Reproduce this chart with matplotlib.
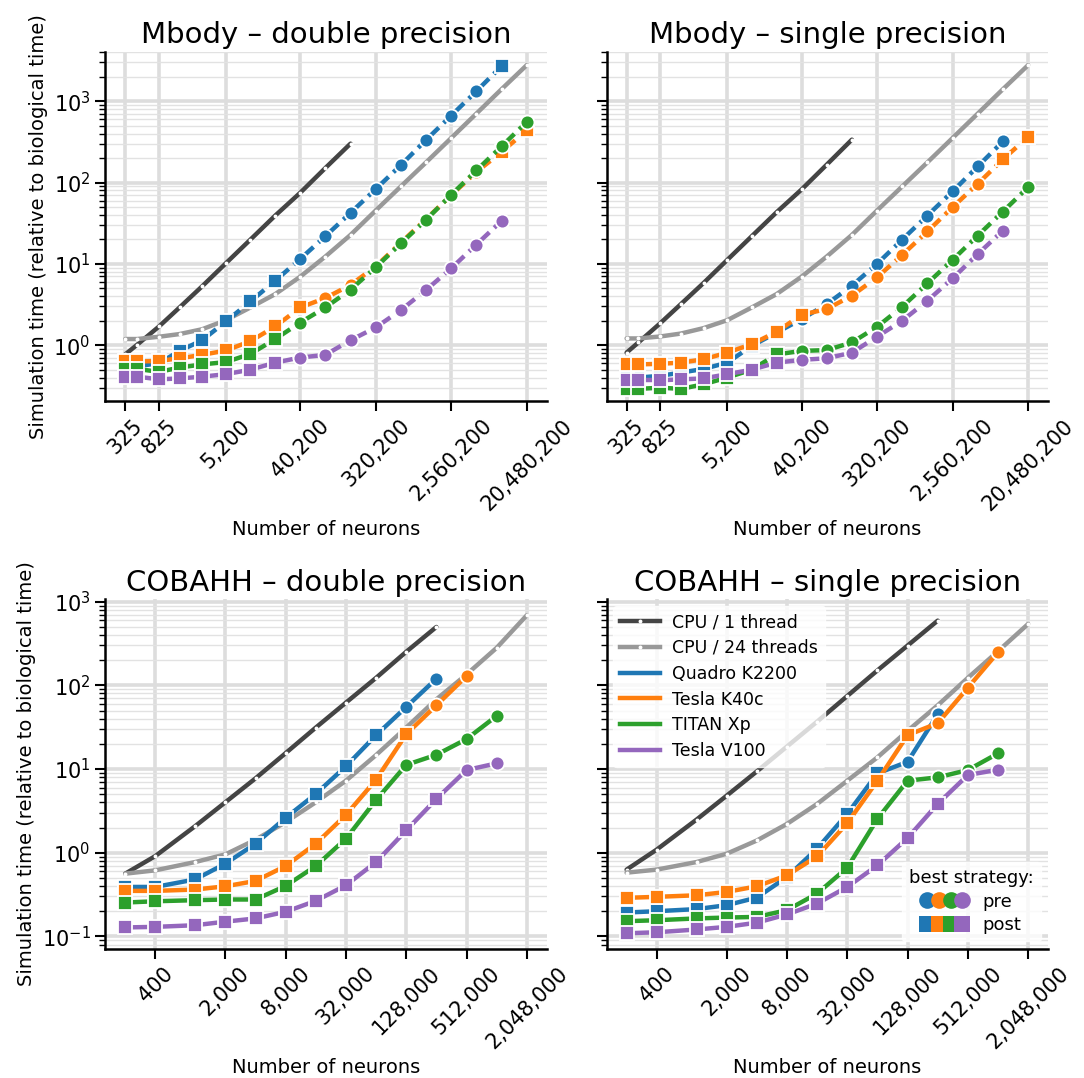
import numpy as np
import matplotlib.pyplot as plt
from matplotlib.lines import Line2D
from matplotlib.legend_handler import HandlerTuple
from matplotlib.ticker import NullLocator, LogLocator

plt.rcParams['font.family'] = 'DejaVu Sans'
plt.rcParams['font.size'] = 13

# x values
mbody_n = [325, 450, 825, 1450, 2700, 5200, 10200, 20200, 40200, 80200, 160200,
           320200, 640200, 1280200, 2560200, 5120200, 10240200, 20480200]
mbody_ticks = [325, 825, 5200, 40200, 320200, 2560200, 20480200]
cobahh_n = [200, 400, 1000, 2000, 4000, 8000, 16000, 32000, 64000, 128000,
            256000, 512000, 1024000, 2048000]
cobahh_ticks = [400, 2000, 8000, 32000, 128000, 512000, 2048000]

labels = ['CPU / 1 thread', 'CPU / 24 threads', 'Quadro K2200', 'Tesla K40c', 'TITAN Xp', 'Tesla V100']
colors = ['#444444', '#999999', '#1f77b4', '#ff7f0e', '#2ca02c', '#9467bd']

# Mbody - double precision
mbd_cpu1 = [0.77, 1.01, 1.70, 2.91, 5.3, 10.2, 19.9, 39.3, 75, 151, 301]
mbd_cpu24 = [1.19, 1.19, 1.27, 1.37, 1.57, 2.03, 2.91, 4.25, 6.96, 12.3, 22.7, 45.3, 89.6, 177, 353, 705, 1408, 2782]
mbd_k2200 = [0.55, 0.55, 0.60, 0.85, 1.15, 1.96, 3.45, 6.21, 11.5, 21.9, 42.4, 83, 164, 334, 666, 1330, 2704]
mbd_k40c = [0.63, 0.63, 0.64, 0.69, 0.76, 0.86, 1.12, 1.70, 2.91, 3.8, 5.5, 9.3, 18.2, 35.5, 70, 135, 238, 439]
mbd_titan = [0.51, 0.51, 0.47, 0.53, 0.58, 0.62, 0.78, 1.19, 1.90, 2.91, 4.81, 9.07, 17.8, 34.8, 70.7, 141, 279, 557]
mbd_v100 = [0.41, 0.41, 0.38, 0.39, 0.41, 0.44, 0.50, 0.61, 0.705, 0.76, 1.15, 1.65, 2.70, 4.77, 8.82, 17.3, 33.8]
mbd_k2200_st = 'ssssssssoooooooos'
mbd_k40c_st = 'sssssssssooooooos'+'s'
mbd_titan_st = 'ssssssssoooooooooo'
mbd_v100_st = 'ssssssssooooooooo'

# Mbody - single precision
mbs_cpu1 = [0.81, 1.08, 1.87, 3.2, 5.81, 11.2, 21.9, 43.2, 82.3, 166, 337]
mbs_cpu24 = [1.21, 1.21, 1.28, 1.39, 1.62, 2.03, 2.91, 4.25, 6.96, 12.3, 22.7, 45.3, 89.6, 177, 353, 705, 1408, 2782]
mbs_k2200 = [0.40, 0.40, 0.42, 0.46, 0.51, 0.61, 0.98, 1.43, 2.09, 3.2, 5.39, 10, 19.9, 39.3, 77.8, 158, 321]
mbs_k40c = [0.58, 0.58, 0.59, 0.61, 0.67, 0.81, 1.03, 1.46, 2.37, 2.78, 4.06, 6.83, 12.9, 25, 49.8, 96.6, 193, 364]
mbs_titan = [0.29, 0.29, 0.30, 0.29, 0.33, 0.40, 0.50, 0.77, 0.85, 0.87, 1.08, 1.68, 2.97, 5.76, 11.2, 22.3, 44, 87.9]
mbs_v100 = [0.37, 0.37, 0.37, 0.38, 0.39, 0.44, 0.50, 0.61, 0.66, 0.69, 0.81, 1.27, 2.0, 3.52, 6.64, 13.2, 25.7]
mbs_k2200_st = 'ssssssssooooooooo'
mbs_k40c_st = 'sssssssssooooooos'+'s'
mbs_titan_st = 'ssssssssoooooooooo'
mbs_v100_st = 'ssssssssooooooooo'

# COBAHH - double precision
cbd_cpu1 = [0.562, 0.913, 2.08, 4.01, 7.74, 15.5, 31.3, 62.2, 123, 252, 499]
cbd_cpu24 = [0.562, 0.616, 0.774, 0.955, 1.43, 2.32, 4.01, 7.26, 14.7, 31.3, 68.1, 135, 281, 688]
cbd_k2200 = [0.39, 0.39, 0.48, 0.74, 1.28, 2.61, 5.04, 10.8, 25.4, 55.2, 120]
cbd_k40c = [0.35, 0.35, 0.363, 0.397, 0.46, 0.694, 1.28, 2.83, 7.46, 26.1, 57.8, 129]
cbd_titan = [0.254, 0.263, 0.271, 0.276, 0.276, 0.401, 0.694, 1.47, 4.27, 11.2, 14.8, 22.8, 43.2]
cbd_v100 = [0.128, 0.130, 0.136, 0.15, 0.164, 0.197, 0.266, 0.408, 0.774, 1.85, 4.39, 9.73, 11.7]
cbd_k2200_st = 'sssssssssoo'
cbd_k40c_st = 'ssssssssssoo'
cbd_titan_st = 'sssssssssoooo'
cbd_v100_st = 'sssssssssssoo'

# COBAHH - single precision
cbs_cpu1 = [0.628, 1.09, 2.49, 4.81, 9.38, 18.6, 36.9, 74.7, 151, 299, 594]
cbs_cpu24 = [0.578, 0.628, 0.774, 0.973, 1.4, 2.21, 3.83, 7.26, 13.8, 28.6, 57.8, 123, 256, 542]
cbs_k2200 = [0.193, 0.2, 0.212, 0.236, 0.291, 0.513, 1.12, 2.91, 8.88, 12.2, 45.1]
cbs_k40c = [0.289, 0.297, 0.31, 0.34, 0.397, 0.537, 0.904, 2.26, 7.26, 25.4, 35.3, 93.8, 249]
cbs_titan = [0.152, 0.156, 0.164, 0.168, 0.171, 0.206, 0.325, 0.663, 2.54, 7.26, 7.96, 9.73, 15.4]
cbs_v100 = [0.109, 0.112, 0.121, 0.130, 0.146, 0.183, 0.247, 0.39, 0.707, 1.5, 3.83, 8.49, 9.82]
cbs_k2200_st = 'sssssssssoo'
cbs_k40c_st = 'ssssssssssooo'
cbs_titan_st = 'sssssssssoooo'
cbs_v100_st = 'sssssssssssoo'

panels = [
    ('Mbody \u2013 double precision', mbody_n, mbody_ticks, True,
     [mbd_cpu1, mbd_cpu24], [(mbd_k2200, mbd_k2200_st), (mbd_k40c, mbd_k40c_st), (mbd_titan, mbd_titan_st), (mbd_v100, mbd_v100_st)]),
    ('Mbody \u2013 single precision', mbody_n, mbody_ticks, True,
     [mbs_cpu1, mbs_cpu24], [(mbs_k2200, mbs_k2200_st), (mbs_k40c, mbs_k40c_st), (mbs_titan, mbs_titan_st), (mbs_v100, mbs_v100_st)]),
    ('COBAHH \u2013 double precision', cobahh_n, cobahh_ticks, False,
     [cbd_cpu1, cbd_cpu24], [(cbd_k2200, cbd_k2200_st), (cbd_k40c, cbd_k40c_st), (cbd_titan, cbd_titan_st), (cbd_v100, cbd_v100_st)]),
    ('COBAHH \u2013 single precision', cobahh_n, cobahh_ticks, False,
     [cbs_cpu1, cbs_cpu24], [(cbs_k2200, cbs_k2200_st), (cbs_k40c, cbs_k40c_st), (cbs_titan, cbs_titan_st), (cbs_v100, cbs_v100_st)]),
]

fig, axes = plt.subplots(2, 2, figsize=(10.84, 10.78), dpi=100, sharey='row')
fig.subplots_adjust(left=0.097, right=0.967, top=0.952, bottom=0.12, wspace=0.135, hspace=0.567)

LW = 3.2
for ax, (title, xs, ticks, dashed, cpus, gpus) in zip(axes.flat, panels):
    ax.set_xscale('log')
    ax.set_yscale('log')
    ax.set_axisbelow(True)
    for i, ys in enumerate(cpus):
        ax.plot(xs[:len(ys)], ys, color=colors[i], lw=LW, marker='o', ms=2.8,
                mfc='white', mec='white', mew=0, solid_capstyle='round', label=labels[i])
    for j, (ys, st) in enumerate(gpus):
        c = colors[j + 2]
        n = len(ys)
        if dashed:
            for k in range(n - 1):
                ax.plot(xs[k:k + 2], ys[k:k + 2], color=c, lw=LW, dashes=(4, 1.5), dash_capstyle='butt')
        else:
            ax.plot(xs[:n], ys, color=c, lw=LW)
        for m in ('o', 's'):
            px = [xs[k] for k in range(n) if st[k] == m]
            py = [ys[k] for k in range(n) if st[k] == m]
            ax.plot(px, py, ls='none', marker=m, ms=10 if m == 'o' else 9.5, color=c,
                    mec='white', mew=1.3)
    ax.set_xticks(ticks)
    ax.set_xticklabels(['{:,}'.format(t) for t in ticks], rotation=45)
    ax.xaxis.set_minor_locator(NullLocator())
    ax.yaxis.set_major_locator(LogLocator(base=10))
    ax.yaxis.set_minor_locator(LogLocator(base=10, subs=np.arange(2, 10)))
    ax.grid(which='major', color='#dddddd', lw=2.6)
    ax.grid(which='minor', axis='y', color='#e2e2e2', lw=1.0)
    ax.tick_params(which='major', length=7, width=1.5, labelsize=15)
    ax.tick_params(which='minor', length=4, width=1.0)
    for s in ('top', 'right'):
        ax.spines[s].set_visible(False)
    for s in ('left', 'bottom'):
        ax.spines[s].set_linewidth(1.8)
    ax.set_title(title, fontsize=21)
    ax.set_xlabel('Number of neurons', fontsize=14, labelpad=4)

axes[0, 0].set_ylim(0.205, 4060)
axes[1, 0].set_ylim(0.0714, 1070)
for ax in axes[:, 0]:
    ax.set_ylabel('Simulation time (relative to biological time)', fontsize=14)
for ax in axes[:, 1]:
    ax.tick_params(axis='y', which='both', labelleft=False)

# legends
ax = axes[1, 1]
h = [Line2D([], [], color=colors[0], lw=LW, marker='o', ms=2.8, mfc='white', mec='white', mew=0),
     Line2D([], [], color=colors[1], lw=LW, marker='o', ms=2.8, mfc='white', mec='white', mew=0)]
h += [Line2D([], [], color=c, lw=LW) for c in colors[2:]]
leg1 = ax.legend(h, labels, loc='upper left', fontsize=12.5, labelspacing=0.45,
                 handlelength=2.3, handletextpad=0.7, framealpha=0.8, edgecolor='white',
                 borderaxespad=0.4)
ax.add_artist(leg1)
pre = tuple(Line2D([], [], ls='none', marker='o', ms=12, color=c, mew=0) for c in colors[2:])
post = tuple(Line2D([], [], ls='none', marker='s', ms=12, color=c, mew=0) for c in colors[2:])
leg2 = ax.legend([pre, post], ['pre', 'post'], title='best strategy:', title_fontsize=13,
                 fontsize=13, loc='lower right', handler_map={tuple: HandlerTuple(ndivide=None, pad=0)},
                 handlelength=2.6, labelspacing=0.3, framealpha=0.8, edgecolor='white', borderaxespad=0.4)

fig.savefig('out.png', dpi=100)
